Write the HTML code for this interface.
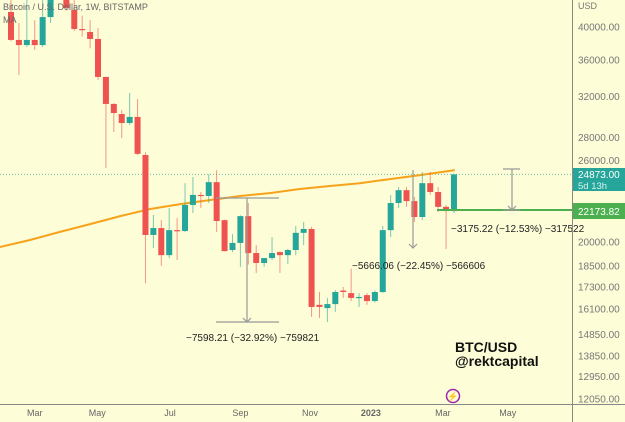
<!DOCTYPE html>
<html><head><meta charset="utf-8"><style>
html,body{margin:0;padding:0;background:#fdfdd8;}
svg{display:block;font-family:"Liberation Sans",sans-serif;}
</style></head><body>
<svg id="chart" width="625" height="422" viewBox="0 0 625 422" xmlns="http://www.w3.org/2000/svg">
<rect x="0" y="0" width="625" height="422" fill="#fdfdd8"/>
<g id="plot"></g>
<g id="axes"></g>
</svg>
<script>
// ---- data ----
const opens  = [42000,38380,37750,38380,37750,41320,45500,46500,42270,39760,39380,38500,34060,31220,30220,29360,29940,26480,20460,20920,19170,20780,20720,22540,23280,23200,24260,21460,19490,19940,21740,19300,18690,18990,19360,19170,19490,20600,20860,16330,16160,16370,17100,16960,16700,16850,16530,17020,20780,22680,23640,22820,21680,24180,23500,22400,22100];
const highs  = [45000,40540,45000,40900,45000,47000,48000,47500,43660,41500,40920,39900,34100,31300,30620,32340,31720,26700,21820,21460,22320,21600,24180,24660,23500,24900,25220,21500,20520,21800,22680,19800,19000,20320,19400,19550,21060,21340,21000,17020,16700,17130,17300,18350,16960,16960,17100,21060,23280,23880,23880,23120,25060,25060,23880,22540,24950];
const lows   = [38200,34280,37520,37160,37520,40540,44000,42200,39500,38800,37350,33740,25400,28520,27960,29180,26480,17510,19620,18520,18990,18870,20660,21960,22320,22680,20660,19400,19360,18460,18600,18100,18460,18870,18100,18630,19170,19800,15710,15650,15450,15960,16700,16530,16220,16330,16450,16960,20320,22320,22400,21340,21460,23280,22040,19550,21960];
const closes = [38380,37750,38380,37750,41320,45500,46500,42550,39760,39640,38500,34060,31220,30320,29360,29940,26580,20460,20920,19170,20780,20720,22540,23280,23200,24260,21400,19420,19940,21740,19300,18690,18990,19300,19170,19490,20600,20860,16220,16220,16370,17020,17020,16700,16750,16530,17020,20780,22680,23640,22820,21680,24180,23500,22400,22100,24873];
const maIdx = [-1.4,2.4,6.2,10,13.8,17.6,21.4,25.2,29,32.7,36.5,40.3,44.1,47.9,51.7,56.1];
const maVal = [19680,20130,20660,21190,21740,22250,22600,22900,23200,23420,23730,23960,24180,24500,24820,25220];
const yTicks = [40000,36000,32000,28000,26000,20000,18500,17300,16100,14850,13850,12950,12050];
const xLabels = ["Mar","May","Jul","Sep","Nov","2023","Mar","May"];
const xLabelIdx = [3.0,10.9,20.1,29.0,37.8,45.5,54.6,62.8];
const lastPrice = 24873.00;
const supportPrice = 22173.82;

// ---- scales ----
function y(v){ return 242 - (Math.log(v) - Math.log(20000)) * 310; }
function x(i){ return 11 + i * 7.91; }
const NS = "http://www.w3.org/2000/svg";
const plot = document.getElementById('plot');
const axes = document.getElementById('axes');
function mk(tag, attrs, parent){
  const e = document.createElementNS(NS, tag);
  for (const k in attrs) e.setAttribute(k, attrs[k]);
  parent.appendChild(e); return e;
}

// dotted last price line
let e = mk('line',{x1:0,x2:572,y1:y(lastPrice),y2:y(lastPrice),stroke:'#26a69a','stroke-width':1,'stroke-dasharray':'1,2',opacity:0.7},plot);



// MA line
let pts = maIdx.map((d,k)=> x(d).toFixed(1)+','+y(maVal[k]).toFixed(1)).join(' ');
e = mk('polyline',{points:pts,fill:'none',stroke:'#f7a21b','stroke-width':2},plot);



// candles
for (let i=0;i<opens.length;i++){
  const up = closes[i] >= opens[i];
  const col = up ? '#26a69a' : '#ef5350';
  const g = mk('g',{},plot);
  
  
  mk('line',{x1:x(i),x2:x(i),y1:y(highs[i]),y2:y(lows[i]),stroke:col,'stroke-width':1,opacity:0.6},g);
  const top = y(Math.max(opens[i],closes[i])), bot = y(Math.min(opens[i],closes[i]));
  mk('rect',{x:x(i)-3,y:top,width:6,height:Math.max(1.2,bot-top),fill:col},g);
}

// support line
e = mk('line',{x1:437,x2:572,y1:y(supportPrice),y2:y(supportPrice),stroke:'#4caf50','stroke-width':2},plot);



// measure tools
function measure(name, xc, x1, x2, yt, yb, label, lx, ly){
  const g = mk('g',{stroke:'#999','stroke-width':1.2},plot);
  
  
  if (x1!==null){ mk('line',{x1:x1,x2:x2,y1:yt,y2:yt},g); mk('line',{x1:x1,x2:x2,y1:yb,y2:yb},g); }
  mk('line',{x1:xc,x2:xc,y1:yt,y2:yb},g);
  mk('polyline',{points:(xc-4)+','+(yb-4)+' '+xc+','+yb+' '+(xc+4)+','+(yb-4),fill:'none'},g);
  const t = mk('text',{x:lx,y:ly,'font-size':10,fill:'#222',stroke:'none'},g);
  t.textContent = label;
}
measure('measure-sep-drop',247,216,279,198,322,'−7598.21 (−32.92%) −759821',186,341);
measure('measure-feb-drop',413,null,null,170,248,'',0,0);
measure('measure-mar-drop',512,503,520,169,210,'−3175.22 (−12.53%) −317522',451,232);
let tt = mk('text',{x:352,y:269,'font-size':10,fill:'#222'},plot);
tt.textContent='−5666.06 (−22.45%) −566606';



// axes lines
mk('line',{x1:572.5,x2:572.5,y1:0,y2:422,stroke:'#888','stroke-width':1},axes);
mk('line',{x1:0,x2:625,y1:404.5,y2:404.5,stroke:'#888','stroke-width':1},axes);

// y ticks
let u = mk('text',{x:578,y:9,'font-size':9,fill:'#777'},axes);
u.textContent='USD';
for (const v of yTicks){
  const t = mk('text',{x:578,y:y(v)+3.5,'font-size':10,fill:'#777'},axes);
  
  
  t.textContent = v.toFixed(2);
}
// price boxes
e = mk('rect',{x:573,y:168,width:52,height:23,fill:'#26a69a'},axes);


let t1 = mk('text',{x:578,y:178,'font-size':10,fill:'#fff'},axes); t1.textContent = lastPrice.toFixed(2);
let t2 = mk('text',{x:578,y:189,'font-size':9.5,fill:'#d8f2ef'},axes); t2.textContent = '5d 13h';
e = mk('rect',{x:573,y:203,width:52,height:16,fill:'#4caf50'},axes);


let t3 = mk('text',{x:578,y:215,'font-size':10,fill:'#fff'},axes); t3.textContent = supportPrice.toFixed(2);

// x labels
for (let k=0;k<xLabels.length;k++){
  const t = mk('text',{x:x(xLabelIdx[k]),y:416,'font-size':9,fill:'#666','text-anchor':'middle','font-weight':xLabels[k]==='2023'?'bold':'normal'},axes);
  
  
  t.textContent = xLabels[k];
}
</script>
<svg style="position:absolute;left:0;top:0" width="625" height="422">
<text x="3" y="10" font-size="9" fill="#666" font-family="Liberation Sans,sans-serif">Bitcoin / U.S. Dollar, 1W, BITSTAMP</text>
<text x="3" y="23" font-size="9" fill="#666" font-family="Liberation Sans,sans-serif">MA</text>
<text x="455" y="352" font-size="14" font-weight="bold" fill="#111" font-family="Liberation Sans,sans-serif">BTC/USD</text>
<text x="455" y="366" font-size="14" font-weight="bold" fill="#111" font-family="Liberation Sans,sans-serif">@rektcapital</text>
<g><circle cx="453" cy="396" r="6.5" fill="none" stroke="#9c27b0" stroke-width="1.5"/><text x="453" y="399.5" font-size="9" text-anchor="middle" fill="#9c27b0">⚡</text></g>
</svg>
</body></html>
